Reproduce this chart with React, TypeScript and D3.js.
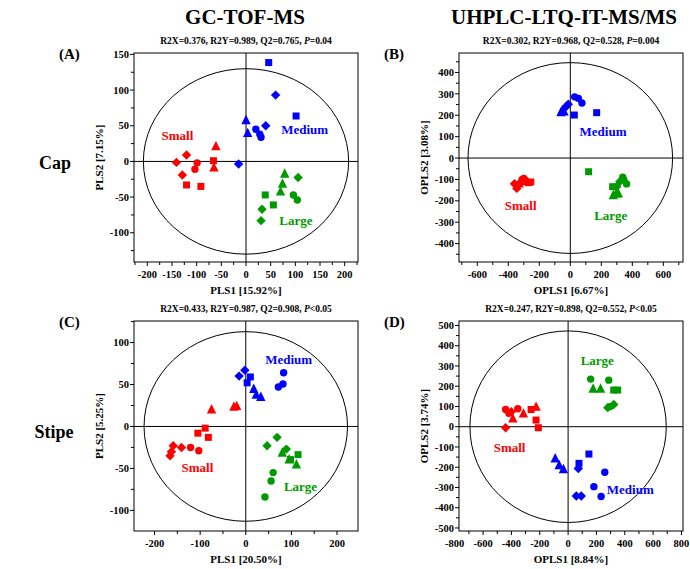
import React from 'react';
import * as d3 from 'd3';

type Pt = [number, number, string];

// ---------- Panel A: Cap, GC-TOF-MS (PLS) ----------
const capGcSmall: Pt[] = [
  [-141, -1.4, 'd'], [-120.5, 9, 'd'], [-129, -19, 'd'], [-99, -2, 'c'], [-103.5, -11, 'c'],
  [-120.5, -33, 's'], [-91.4, -35, 's'], [-66, 1, 's'], [-61, 21.5, 't'], [-65, -8.4, 't'],
];
const capGcMedium: Pt[] = [
  [46, 138.6, 's'], [60, 93, 'd'], [101.5, 63.7, 's'], [0, 58, 't'], [3.4, 40, 't'],
  [20, 45, 'c'], [40, 50, 'd'], [28, 38, 'c'], [30.5, 34, 'c'], [-15, -3.7, 'd'],
];
const capGcLarge: Pt[] = [
  [78.5, -17, 't'], [105.6, -22.5, 'd'], [74, -31, 't'], [70, -42, 't'], [39, -47, 's'],
  [96, -47, 'c'], [104, -54, 'c'], [55.5, -61, 's'], [32.5, -67, 'd'], [30.5, -83, 'd'],
];

// ---------- Panel B: Cap, UHPLC (OPLS) ----------
const capLcSmall: Pt[] = [
  [-360, -120, 'd'], [-345, -142, 'd'], [-335, -125, 'd'], [-300, -95, 'c'], [-288, -105, 'c'],
  [-270, -115, 's'], [-255, -112, 's'], [-315, -108, 't'], [-330, -118, 't'], [-310, -100, 'c'],
];
const capLcMedium: Pt[] = [
  [-60, 215, 't'], [-41, 218, 't'], [-28, 240, 'd'], [-13, 252, 'd'], [26, 201, 's'],
  [170, 212, 's'], [28, 286, 'c'], [52, 279, 'c'], [75, 257, 'c'], [-50, 225, 't'],
];
const capLcLarge: Pt[] = [
  [118, -64, 's'], [338, -90, 'c'], [363, -121, 'c'], [295, -165, 't'], [277, -173, 't'],
  [310, -165, 't'], [273, -134, 's'], [320, -110, 'd'], [299, -134, 'd'], [346, -103, 'c'],
];

// ---------- Panel C: Stipe, GC-TOF-MS (PLS) ----------
const stipeGcSmall: Pt[] = [
  [-75, 20.5, 't'], [-26, 23.7, 't'], [-20, 24.5, 't'], [-89, -2, 's'], [-105, -8, 's'],
  [-82, -13, 's'], [-159, -23, 'd'], [-141, -25, 'd'], [-163, -30, 'd'], [-166, -35, 'd'],
  [-121, -25, 'c'], [-103, -29, 'c'],
];
const stipeGcMedium: Pt[] = [
  [-2, 67, 'd'], [-14.6, 60, 'd'], [10, 59, 's'], [3, 52, 's'], [17.5, 45, 't'],
  [23, 38, 't'], [33, 35.5, 't'], [83, 64, 'c'], [81.5, 50.6, 'c'], [71.5, 47, 'c'],
];
const stipeGcLarge: Pt[] = [
  [68.6, -13, 'd'], [46.7, -23, 'd'], [89, -27, 'd'], [80, -31, 't'], [95, -39, 't'],
  [111, -45, 't'], [114.6, -33.6, 's'], [98, -39.5, 's'], [60, -55, 'c'], [55.5, -65, 'c'],
  [42, -84, 'c'],
];

// ---------- Panel D: Stipe, UHPLC (OPLS) ----------
const stipeLcSmall: Pt[] = [
  [-441, 85, 'c'], [-401, 74, 'd'], [-390, 41, 't'], [-355, 89, 'c'], [-315, 66, 't'],
  [-261, 85, 's'], [-226, 99, 't'], [-226, 33, 's'], [-210, -5, 's'], [-441, -5, 'd'],
  [-418, 66, 'c'],
];
const stipeLcMedium: Pt[] = [
  [-91, -156, 't'], [-63, -189, 't'], [-33, -209, 't'], [147, -135, 's'], [77, -181, 's'],
  [72, -206, 'd'], [259, -225, 'c'], [182, -296, 'c'], [233, -345, 'c'], [58, -342, 'd'],
  [93, -342, 'd'],
];
const stipeLcLarge: Pt[] = [
  [159, 235, 'c'], [287, 230, 'c'], [177, 189, 't'], [229, 189, 't'], [322, 181, 's'],
  [350, 181, 's'], [280, 94, 'd'], [322, 110, 'd'], [294, 99, 'c'],
];

// group label positions (data coords)
const labelsA: [string, number, number][] = [['Small', -139, 36.5], ['Medium', 119, 44.5], ['Large', 101, -83]];
const labelsB: [string, number, number][] = [['Medium', 211, 126], ['Small', -320, -223], ['Large', 261, -270]];
const labelsC: [string, number, number][] = [['Medium', 94, 80], ['Small', -106, -49], ['Large', 120, -71.5]];
const labelsD: [string, number, number][] = [['Large', 206, 326], ['Small', -413, -104], ['Medium', 439, -312]];

const COLORS: Record<string, string> = { Small: '#ff0000', Medium: '#0000ff', Large: '#009a00' };
const FONT = '"Liberation Serif", "Times New Roman", serif';

interface PanelCfg {
  letter: string;
  stats: React.ReactNode;
  x0: number; x1: number; y0: number; y1: number;
  xDom: [number, number]; yDom: [number, number];
  xLabels: number[]; xTickStep: number;
  yLabels: number[]; yTickStep: number;
  rx: number; ry: number;
  xTitle: string; yTitle: string;
  groups: [string, Pt[]][];
  labels: [string, number, number][];
}

const statsNode = (r2x: string, r2y: string, q2: string, p: string) => (
  <>
    {`R2X=${r2x}, R2Y=${r2y}, Q2=${q2}, `}
    <tspan fontStyle="italic">P</tspan>
    {p}
  </>
);

const panels: PanelCfg[] = [
  {
    letter: '(A)', stats: statsNode('0.376', '0.989', '0.765', '=0.04'),
    x0: 134, x1: 358, y0: 53, y1: 262, xDom: [-227, 227], yDom: [-141, 152],
    xLabels: d3.range(-200, 201, 50), xTickStep: 25, yLabels: d3.range(-100, 151, 50), yTickStep: 25,
    rx: 208, ry: 130, xTitle: 'PLS1 [15.92%]', yTitle: 'PLS2 [7.15%]',
    groups: [['Small', capGcSmall], ['Medium', capGcMedium], ['Large', capGcLarge]], labels: labelsA,
  },
  {
    letter: '(B)', stats: statsNode('0.302', '0.968', '0.528', '=0.004'),
    x0: 459, x1: 683, y0: 53, y1: 262, xDom: [-718, 727], yDom: [-486, 491],
    xLabels: d3.range(-600, 601, 200), xTickStep: 100, yLabels: d3.range(-400, 401, 100), yTickStep: 50,
    rx: 660, ry: 446, xTitle: 'OPLS1 [6.67%]', yTitle: 'OPLS2 [3.08%]',
    groups: [['Small', capLcSmall], ['Medium', capLcMedium], ['Large', capLcLarge]], labels: labelsB,
  },
  {
    letter: '(C)', stats: statsNode('0.433', '0.987', '0.908', '<0.05'),
    x0: 134, x1: 358, y0: 321, y1: 531, xDom: [-245, 246], yDom: [-124.6, 125.7],
    xLabels: d3.range(-200, 201, 100), xTickStep: 50, yLabels: d3.range(-100, 101, 50), yTickStep: 25,
    rx: 223, ry: 113, xTitle: 'PLS1 [20.50%]', yTitle: 'PLS2 [5.25%]',
    groups: [['Small', stipeGcSmall], ['Medium', stipeGcMedium], ['Large', stipeGcLarge]], labels: labelsC,
  },
  {
    letter: '(D)', stats: statsNode('0.247', '0.898', '0.552', '<0.05'),
    x0: 459, x1: 683, y0: 321, y1: 531, xDom: [-770, 811], yDom: [-515, 522],
    xLabels: d3.range(-800, 801, 200), xTickStep: 100, yLabels: d3.range(-500, 501, 100), yTickStep: 50,
    rx: 693, ry: 473, xTitle: 'OPLS1 [8.84%]', yTitle: 'OPLS2 [3.74%]',
    groups: [['Small', stipeLcSmall], ['Medium', stipeLcMedium], ['Large', stipeLcLarge]], labels: labelsD,
  },
];

function markerPath(shape: string, cx: number, cy: number): string {
  if (shape === 's') {
    const h = 3.5;
    return `M${cx - h},${cy - h}H${cx + h}V${cy + h}H${cx - h}Z`;
  }
  if (shape === 'd') {
    const h = 4.7;
    return `M${cx},${cy - h}L${cx + h},${cy}L${cx},${cy + h}L${cx - h},${cy}Z`;
  }
  if (shape === 't') {
    const h = 4.7;
    return `M${cx},${cy - h - 0.5}L${cx + h},${cy + h - 0.5}L${cx - h},${cy + h - 0.5}Z`;
  }
  const r = 3.7;
  return `M${cx - r},${cy}a${r},${r} 0 1,0 ${2 * r},0a${r},${r} 0 1,0 ${-2 * r},0Z`;
}

function Panel({ p }: { p: PanelCfg }) {
  const x = d3.scaleLinear().domain(p.xDom).range([p.x0, p.x1]);
  const y = d3.scaleLinear().domain(p.yDom).range([p.y1, p.y0]);
  const xTicks = d3.range(Math.ceil(p.xDom[0] / p.xTickStep) * p.xTickStep, p.xDom[1] + 0.001, p.xTickStep);
  const yTicks = d3.range(Math.ceil(p.yDom[0] / p.yTickStep) * p.yTickStep, p.yDom[1] + 0.001, p.yTickStep);
  const cx = (p.x0 + p.x1) / 2;
  const cy = (p.y0 + p.y1) / 2;
  const ex = x(0), ey = y(0);
  const erx = x(p.rx) - x(0), ery = y(0) - y(p.ry);
  return (
    <g>
      <text x={p.x0 - 75} y={p.y0 + 6} fontSize={15} fontWeight="bold" fontFamily={FONT}>{p.letter}</text>
      <text x={cx} y={p.y0 - 9} fontSize={9.5} fontWeight="bold" fontFamily={FONT} textAnchor="middle">{p.stats}</text>
      <ellipse cx={ex} cy={ey} rx={erx} ry={ery} fill="none" stroke="#000" strokeWidth={1} />
      <line x1={p.x0} x2={p.x1} y1={ey} y2={ey} stroke="#000" strokeWidth={1} />
      <line x1={ex} x2={ex} y1={p.y0} y2={p.y1} stroke="#000" strokeWidth={1} />
      <rect x={p.x0} y={p.y0} width={p.x1 - p.x0} height={p.y1 - p.y0} fill="none" stroke="#000" strokeWidth={1} />
      {xTicks.map((t) => (
        <line key={'xt' + t} x1={x(t)} x2={x(t)} y1={p.y1} y2={p.y1 + (p.xLabels.includes(t) ? 4 : 3)} stroke="#000" />
      ))}
      {yTicks.map((t) => (
        <line key={'yt' + t} x1={p.x0} x2={p.x0 - (p.yLabels.includes(t) ? 4 : 3)} y1={y(t)} y2={y(t)} stroke="#000" />
      ))}
      {p.xLabels.map((t) => (
        <text key={'xl' + t} x={x(t)} y={p.y1 + 16} fontSize={10.5} fontWeight="bold" fontFamily={FONT} textAnchor="middle">{t}</text>
      ))}
      {p.yLabels.map((t) => (
        <text key={'yl' + t} x={p.x0 - 5} y={y(t)} dy="0.35em" fontSize={10.5} fontWeight="bold" fontFamily={FONT} textAnchor="end">{t}</text>
      ))}
      <text x={cx} y={p.y1 + 32} fontSize={11} fontWeight="bold" fontFamily={FONT} textAnchor="middle">{p.xTitle}</text>
      <text transform={`translate(${p.x0 - 31},${cy}) rotate(-90)`} fontSize={11} fontWeight="bold" fontFamily={FONT} textAnchor="middle">{p.yTitle}</text>
      {p.groups.map(([name, pts]) =>
        pts.map((d, i) => (
          <path key={name + i} d={markerPath(d[2], x(d[0]), y(d[1]))} fill={COLORS[name]} />
        ))
      )}
      {p.labels.map(([name, lx, ly]) => (
        <text key={'lab' + name} x={x(lx)} y={y(ly)} dy="0.35em" fontSize={13} fontWeight="bold" fontFamily={FONT} textAnchor="middle" fill={COLORS[name]}>{name}</text>
      ))}
    </g>
  );
}

export default function App() {
  return (
    <svg width={690} height={569} style={{ position: 'absolute', left: 0, top: 0, background: '#fff' }}>
      <rect width={690} height={569} fill="#fff" />
      <text x={245} y={24} fontSize={21} fontWeight="bold" fontFamily={FONT} textAnchor="middle">GC-TOF-MS</text>
      <text x={564} y={24} fontSize={21} fontWeight="bold" fontFamily={FONT} textAnchor="middle">UHPLC-LTQ-IT-MS/MS</text>
      <text x={55} y={169} fontSize={18} fontWeight="bold" fontFamily={FONT} textAnchor="middle">Cap</text>
      <text x={54} y={438} fontSize={18} fontWeight="bold" fontFamily={FONT} textAnchor="middle">Stipe</text>
      {panels.map((p) => <Panel key={p.letter} p={p} />)}
    </svg>
  );
}
